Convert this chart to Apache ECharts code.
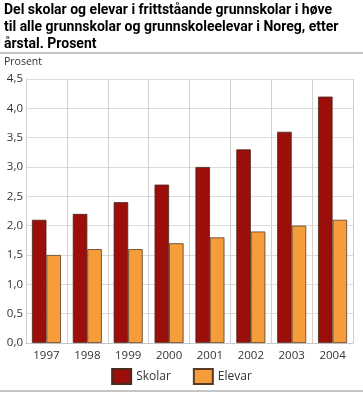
<!DOCTYPE html>
<html><head><meta charset="utf-8">
<script src="https://cdn.jsdelivr.net/npm/echarts@6/dist/echarts.min.js"></script>
<style>html,body{margin:0;padding:0;background:#fff}#c{width:363px;height:393px}</style>
</head><body><div id="c"></div>
<script>
const categories = ['1997','1998','1999','2000','2001','2002','2003','2004'];
const skolar = [2.1, 2.2, 2.4, 2.7, 3.0, 3.3, 3.6, 4.2];
const elevar = [1.5, 1.6, 1.6, 1.7, 1.8, 1.9, 2.0, 2.1];
const seriesNames = ['Skolar', 'Elevar'];
const titleLines = ['Del skolar og elevar i frittståande grunnskolar i høve',
  'til alle grunnskolar og grunnskoleelevar i Noreg, etter', 'årstal. Prosent'];
const yAxisName = 'Prosent';

const chart = echarts.init(document.getElementById('c'), null, {renderer: 'canvas'});
const font = '"Open Sans"';
chart.setOption({
  animation: false,
  title: {
    text: titleLines.join('\n'), left: 4, top: 2, padding: 0,
    textStyle: {fontFamily: 'Roboto', fontSize: 14, fontWeight: 'bold', color: '#000', lineHeight: 17}
  },
  graphic: [
    {type: 'line', shape: {x1: 0, y1: 53, x2: 363, y2: 53}, style: {stroke: '#8c8c8c', lineWidth: 1}},
    {type: 'line', shape: {x1: 0, y1: 391, x2: 363, y2: 391}, style: {stroke: '#8c8c8c', lineWidth: 1}},
    {type: 'text', left: 4, top: 57, style: {text: yAxisName, font: '10.5px "Open Sans"', fill: '#333'}}
  ],
  legend: {
    data: seriesNames, bottom: 3, left: 'center', itemWidth: 19, itemHeight: 15, itemGap: 22,
    icon: 'rect',
    textStyle: {fontFamily: font, fontSize: 12, color: '#333'}
  },
  grid: {left: 26, right: 10, top: 79, bottom: 50, containLabel: false},
  xAxis: {
    type: 'category', data: categories, boundaryGap: true,
    axisLine: {show: true, lineStyle: {color: '#c8c8c8'}},
    axisTick: {show: false},
    splitLine: {show: true, lineStyle: {color: '#d0d0d0'}},
    axisLabel: {color: '#333', fontSize: 11.5, fontFamily: font, margin: 7}
  },
  yAxis: {
    type: 'value', min: 0, max: 4.5, interval: 0.5,
    axisLine: {show: true, lineStyle: {color: '#d0d0d0'}},
    axisTick: {show: false},
    splitLine: {show: true, lineStyle: {color: '#dcdcdc'}},
    axisLabel: {color: '#333', fontSize: 11.5, fontFamily: font, margin: 3,
      formatter: v => v.toFixed(1).replace('.', ',')}
  },
  series: [
    {name: seriesNames[0], type: 'bar', data: skolar, barWidth: 14.5, barGap: '0%',
     itemStyle: {color: '#9b0e0a', borderColor: '#4a2a20', borderWidth: 0.8}},
    {name: seriesNames[1], type: 'bar', data: elevar, barWidth: 14.5, barGap: '0%',
     itemStyle: {color: '#f59d3a', borderColor: '#5a3a20', borderWidth: 0.8}}
  ]
});
</script></body></html>
